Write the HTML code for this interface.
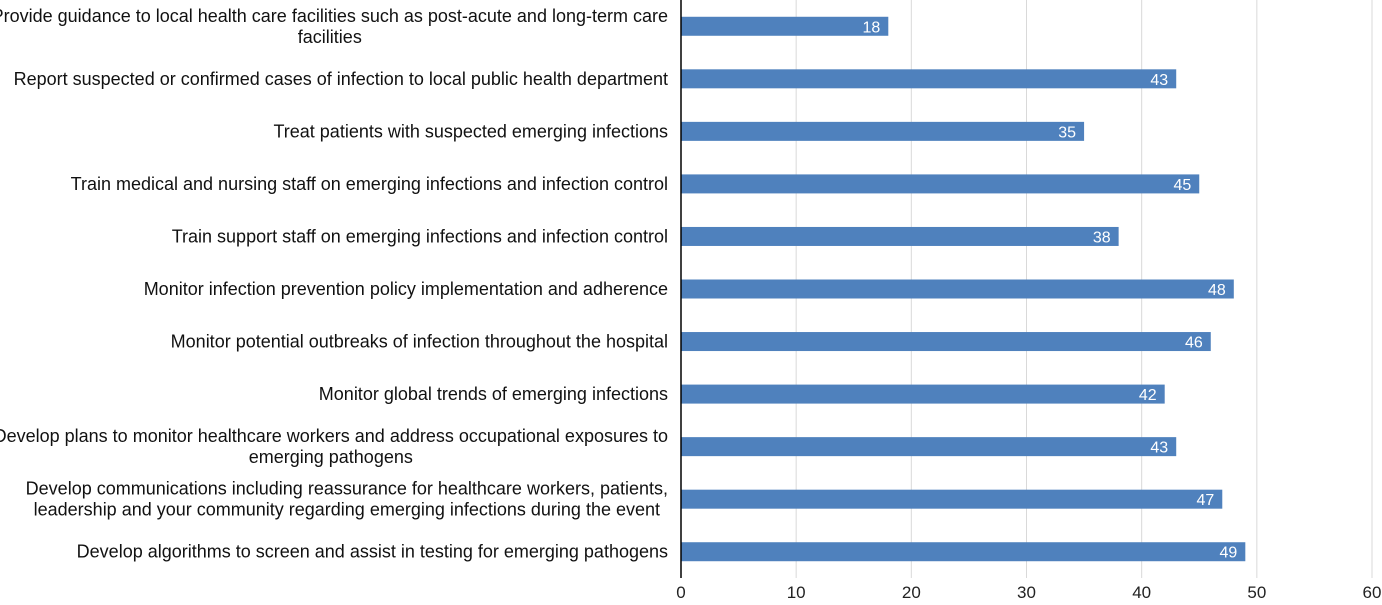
<!DOCTYPE html>
<html><head><meta charset="utf-8"><style>
body{margin:0;background:#fff;width:1382px;height:600px;overflow:hidden}
svg{font-family:"Liberation Sans",Arial,sans-serif}
</style></head><body>
<svg id="chart" width="1382" height="600"></svg>
<script>
const categories=[
["Provide guidance to local health care facilities such as post-acute and long-term care","facilities"],
["Report suspected or confirmed cases of infection to local public health department"],
["Treat patients with suspected emerging infections"],
["Train medical and nursing staff on emerging infections and infection control"],
["Train support staff on emerging infections and infection control"],
["Monitor infection prevention policy implementation and adherence"],
["Monitor potential outbreaks of infection throughout the hospital"],
["Monitor global trends of emerging infections"],
["Develop plans to monitor healthcare workers and address occupational exposures to","emerging pathogens"],
["Develop communications including reassurance for healthcare workers, patients,","leadership and your community regarding emerging infections during the event"],
["Develop algorithms to screen and assist in testing for emerging pathogens"]
];
const values=[18,43,35,45,38,48,46,42,43,47,49];
const ticks=[0,10,20,30,40,50,60];
const NS="http://www.w3.org/2000/svg";
const svg=document.getElementById('chart');
const x0=681,x1=1372,yTop=0,yBottom=578;
const xs=v=>x0+(v-0)/(60-0)*(x1-x0);
const step=(yBottom-yTop)/categories.length;
const yc=i=>yTop+step*(i+0.5);
function mk(t,a){const e=document.createElementNS(NS,t);for(const k in a)e.setAttribute(k,a[k]);svg.appendChild(e);return e;}
ticks.forEach(t=>{
 if(t>0){const g=mk('line',{x1:xs(t),x2:xs(t),y1:0,y2:yBottom,stroke:'#d9d9d9','stroke-width':1});
 
 }
 const l=mk('text',{x:xs(t),y:598,'text-anchor':'middle','font-size':17,fill:'#222'});l.textContent=t;
 
 
});
categories.forEach((c,i)=>{
 const y=yc(i);
 const b=mk('rect',{x:x0,y:y-9.5,width:xs(values[i])-x0,height:19,fill:'#4f81bd'});
 
 
 const v=mk('text',{x:xs(values[i])-8,y:y+6,'text-anchor':'end','font-size':16,fill:'#fff'});v.textContent=values[i];
 
 
 const g=mk('text',{'font-size':18,fill:'#111','text-anchor':'middle'});
 
 
 const n=c.length;
 const tmp=[];
 c.forEach((s,j)=>{const ts=document.createElementNS(NS,'tspan');ts.textContent=s;ts.setAttribute('y',y+6+(j-(n-1)/2)*21);g.appendChild(ts);tmp.push(ts);});
 let w=0;tmp.forEach(ts=>{w=Math.max(w,ts.getComputedTextLength());});
 tmp.forEach(ts=>ts.setAttribute('x',668-w/2));
});
const ax=mk('line',{x1:x0,x2:x0,y1:0,y2:yBottom,stroke:'#000','stroke-width':1.5});


</script>
</body></html>
